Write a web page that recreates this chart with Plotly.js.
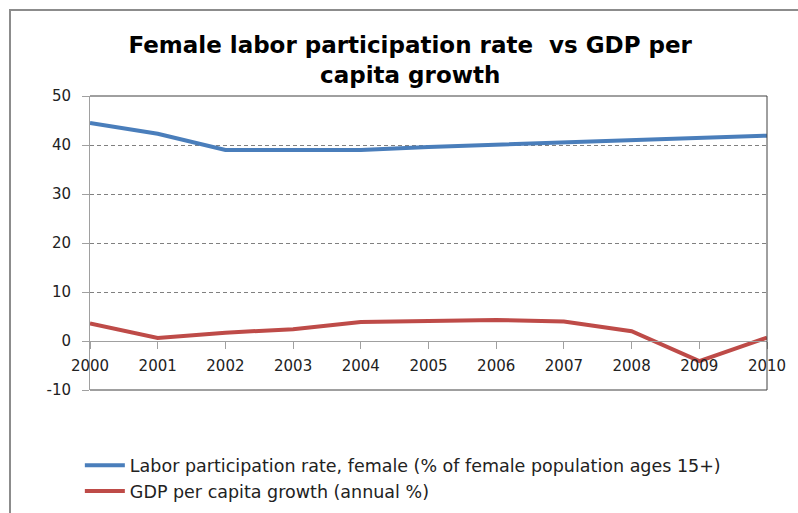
<!DOCTYPE html>
<html>
<head>
<meta charset="utf-8">
<script src="https://cdn.plot.ly/plotly-3.0.1.min.js"></script>
<style>
html,body{margin:0;padding:0;background:#fff;overflow:hidden;}
#frame{position:absolute;left:9px;top:9px;width:820px;height:540px;border:2px solid #8c8c8c;box-sizing:border-box;pointer-events:none;}
#chart{position:absolute;left:0;top:0;width:798px;height:513px;}
</style>
</head>
<body>
<div id="chart"></div>
<div id="frame"></div>
<script>
const years = [2000, 2001, 2002, 2003, 2004, 2005, 2006, 2007, 2008, 2009, 2010];
const laborFemale = [44.5, 42.3, 39.0, 39.0, 39.0, 39.6, 40.1, 40.6, 41.0, 41.4, 41.9];
const gdpGrowth = [3.6, 0.6, 1.7, 2.4, 3.9, 4.0, 4.3, 4.0, 2.0, -4.1, 0.7];
const yTickVals = [-10, 0, 10, 20, 30, 40, 50];
const yTickText = ["-10", "0", "10", "20", "30", "40", "50"];
const xTickText = ["2000","2001","2002","2003","2004","2005","2006","2007","2008","2009","2010"];
const seriesNames = ["Labor participation rate, female (% of female population ages 15+)", "GDP per capita growth (annual %)"];
const titleText = "Female labor participation rate  vs GDP per<br>capita growth";

const FONT = "'DejaVu Sans', sans-serif";
const traces = [
  {x: years, y: laborFemale, name: seriesNames[0], type: "scatter", mode: "lines",
   line: {color: "#4a7ebb", width: 4}},
  {x: years, y: gdpGrowth, name: seriesNames[1], type: "scatter", mode: "lines",
   line: {color: "#be4b48", width: 4}}
];
const layout = {
  width: 798, height: 513,
  margin: {l: 90, r: 31, t: 96, b: 123, autoexpand: false},
  paper_bgcolor: "#fff", plot_bgcolor: "#fff",
  font: {family: FONT, size: 15, color: "#222"},
  title: {text: titleText, font: {family: FONT, size: 23, color: "#000", weight: "bold"},
          x: 0.514, xanchor: "center", xref: "container", y: 0.896, yanchor: "top", yref: "container"},
  xaxis: {range: [2000, 2010], tickvals: years, ticktext: xTickText, anchor: "free", position: 1/6,
          showline: true, linecolor: "#a0a0a0", linewidth: 1, ticks: "outside", ticklen: 7,
          tickcolor: "#a0a0a0", showgrid: false, zeroline: false, tickfont: {size: 15, color: "#222"},
          ticklabelstandoff: 4},
  yaxis: {range: [-10, 50], tickvals: yTickVals, ticktext: yTickText, showline: true, linecolor: "#a0a0a0",
          linewidth: 1, ticks: "outside", ticklen: 7, tickcolor: "#a0a0a0",
          showgrid: true, gridcolor: "#808080", griddash: "4px,3px", gridwidth: 1,
          zeroline: false, tickfont: {size: 15, color: "#222"}, ticklabelstandoff: 8},
  showlegend: true,
  legend: {x: -0.015, xanchor: "left", y: -0.195, yanchor: "top", orientation: "v",
           font: {family: FONT, size: 17.5, color: "#222"}, tracegroupgap: 0, itemwidth: 40,
           bgcolor: "rgba(0,0,0,0)"},
  shapes: [
    {type: "line", xref: "paper", yref: "paper", x0: 0, x1: 1, y0: 1, y1: 1, line: {color: "#404040", width: 1}},
    {type: "line", xref: "paper", yref: "paper", x0: 1, x1: 1, y0: 0, y1: 1, line: {color: "#404040", width: 1}},
    {type: "line", xref: "paper", yref: "paper", x0: 0, x1: 1, y0: 0, y1: 0, line: {color: "#404040", width: 1}}
  ]
};
Plotly.newPlot("chart", traces, layout, {displayModeBar: false, staticPlot: true});
</script>
</body>
</html>
